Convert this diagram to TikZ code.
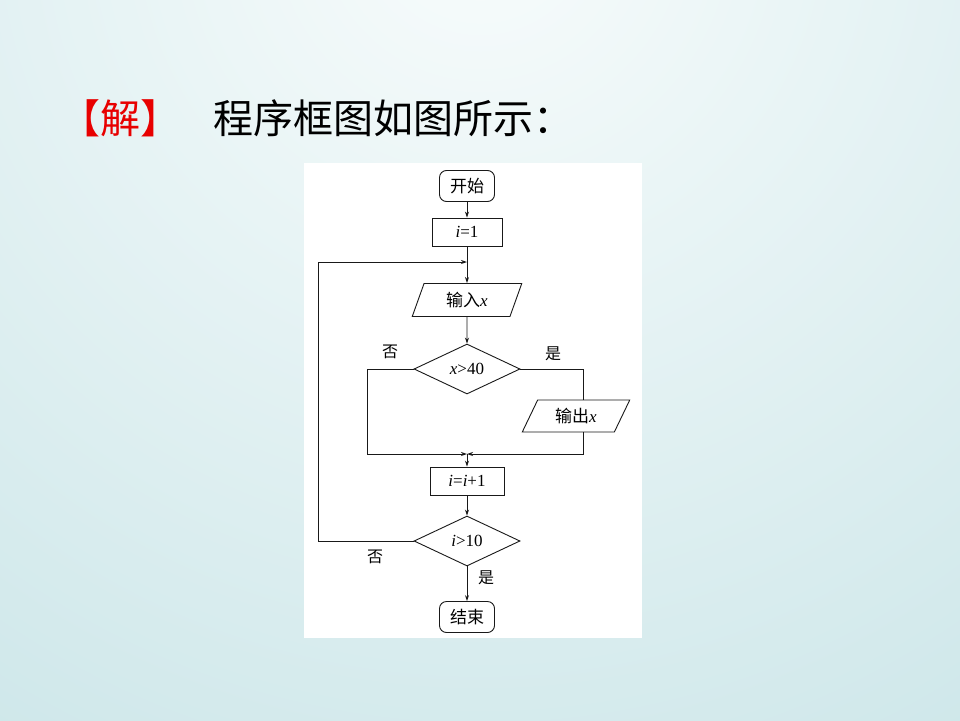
\documentclass[tikz,border=0pt]{standalone}
\usepackage{fontspec}
\setmainfont{Liberation Serif}
\newfontfamily\cjk{Noto Sans CJK SC}
\usetikzlibrary{positioning,arrows.meta,shapes.geometric}
\definecolor{bgtop}{RGB}{248,252,252}
\definecolor{bgcyan}{RGB}{200,228,231}
\definecolor{jiered}{RGB}{232,0,0}
\definecolor{ink}{RGB}{25,25,25}
\newcommand{\zh}[1]{{\cjk #1}}
\tikzset{
  flow/.style={draw=ink,line width=0.9pt,font=\fontsize{17}{17}\selectfont,inner sep=0pt},
  term/.style={flow,rounded corners=7pt,minimum width=55pt,minimum height=31pt},
  proc/.style={flow,minimum width=70pt,minimum height=28pt},
  io/.style={flow,trapezium,trapezium left angle=70,trapezium right angle=110,trapezium stretches=true,minimum width=110pt,minimum height=33pt},
  dec/.style={flow,diamond,minimum width=106pt,minimum height=50pt},
  arr/.style={draw=ink,line width=0.9pt,-{Stealth[length=6pt,width=4pt]}},
  seg/.style={draw=ink,line width=0.9pt},
  blab/.style={font=\fontsize{16}{16}\selectfont},
  title/.style={font=\fontsize{40}{40}\selectfont,inner sep=0pt,anchor=west}
}
\begin{document}
\begin{tikzpicture}[x=1pt,y=-1pt]
  \useasboundingbox (0,0) rectangle (960,720);
  \fill[bgcyan] (0,0) rectangle (960,720);
  \begin{scope}
    \clip (0,0) rectangle (960,720);
    \shade[inner color=bgtop,outer color=bgcyan] (480,-80) circle (1100pt);
  \end{scope}
  \node[title,text=jiered] (jie) at (60,118) {\zh{【解】}};
  \node[title] (head) at (213,118) {\zh{程序框图如图所示：}};
  \fill[white] (304,163) rectangle (642,638);
  \node[term] (start) at (467,186) {\zh{开始}};
  \node[proc] (init) at (467,232) {\textit{i}=1};
  \node[io] (input) at (467,300) {\zh{输入}\textit{x}};
  \node[dec] (cmp) at (467,369) {\textit{x}>40};
  \node[io,trapezium left angle=62,trapezium right angle=118,minimum width=108pt,minimum height=32pt] (output) at (576,416) {\zh{输出}\textit{x}};
  \node[proc,minimum width=74pt] (incr) at (467,481) {\textit{i}=\textit{i}+1};
  \node[dec] (test) at (467,541) {\textit{i}>10};
  \node[term] (stop) at (467,617) {\zh{结束}};
  \coordinate (merge) at (467,454); \coordinate (loopin) at (467,262);
  \draw[arr] (start) -- (init); \draw[arr] (init) -- (input); \draw[arr] (input) -- (cmp);
  \draw[arr] (cmp.west) -- ++(-46,0) |- (merge);
  \draw[seg] (cmp.east) -| ([xshift=7pt]output.north);
  \draw[arr] ([xshift=7pt]output.south) |- (merge);
  \draw[arr] (merge) -- (incr); \draw[arr] (incr) -- (test); \draw[arr] (test) -- (stop);
  \draw[arr] (test.west) -- ++(-95,0) |- (loopin);
  \node[blab] (no1) at (390,352) {\zh{否}}; \node[blab] (yes1) at (553,354) {\zh{是}};
  \node[blab] (no2) at (375,557) {\zh{否}}; \node[blab] (yes2) at (486,578) {\zh{是}};
\end{tikzpicture}
\end{document}
